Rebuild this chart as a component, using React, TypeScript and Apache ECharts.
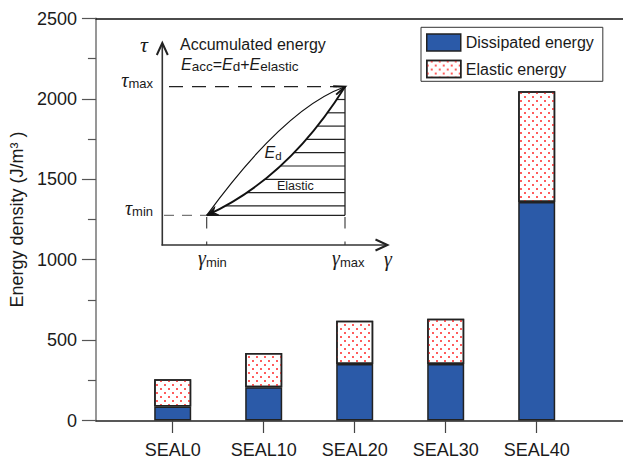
import React, { useEffect, useRef } from 'react';
import * as echarts from 'echarts';

const categories = ['SEAL0', 'SEAL10', 'SEAL20', 'SEAL30', 'SEAL40'];
const dissipated = [87, 207, 352, 352, 1359];
const elastic = [170, 212, 269, 280, 689];
const yTicks = [0, 500, 1000, 1500, 2000, 2500];
const legendNames = ['Dissipated energy', 'Elastic energy'];

const SANS = 'Liberation Sans, Arial, sans-serif';
const SERIF = 'Liberation Serif, Times New Roman, serif';
const INK = '#1a1a1a';

type P = [number, number];
function qb(p0: P, c: P, p2: P, t: number): P {
  const u = 1 - t;
  return [u * u * p0[0] + 2 * u * t * c[0] + t * t * p2[0], u * u * p0[1] + 2 * u * t * c[1] + t * t * p2[1]];
}
function xAtY(p0: P, c: P, p2: P, y: number): number {
  let lo = 0, hi = 1;
  for (let i = 0; i < 50; i++) {
    const m = (lo + hi) / 2;
    if (qb(p0, c, p2, m)[1] > y) lo = m; else hi = m;
  }
  return qb(p0, c, p2, (lo + hi) / 2)[0];
}

function buildInset(): any[] {
  const pMin: P = [206.7, 215.3];
  const pMax: P = [345, 86.7];
  const cLow: P = [287.6, 178.6];
  const cUp: P = [285, 108];
  const els: any[] = [];
  const line = (x1: number, y1: number, x2: number, y2: number, stroke: string, lw: number, dash?: number[]) => ({
    type: 'line', z: 20, silent: true,
    shape: { x1, y1, x2, y2 },
    style: { stroke, lineWidth: lw, lineDash: dash },
  });
  // axes
  els.push(line(162.3, 245.5, 162.3, 44, '#333', 1.6));
  els.push({ type: 'polyline', z: 20, shape: { points: [[156.8, 55], [162.3, 43], [167.8, 55]] }, style: { stroke: '#222', lineWidth: 2, fill: null } });
  els.push(line(161.5, 245, 386, 245, '#333', 1.6));
  els.push({ type: 'polyline', z: 20, shape: { points: [[375.5, 239.5], [387.5, 245], [375.5, 250.5]] }, style: { stroke: '#222', lineWidth: 2, fill: null } });
  // dashed reference lines
  els.push(line(169, 86.7, 337, 86.7, '#222', 1.2, [14, 9]));
  els.push(line(164, 215.3, 206, 215.3, '#777', 1.2, [10, 8]));
  els.push(line(206.7, 217, 206.7, 245, '#333', 1.1, [11.5, 13]));
  els.push(line(345, 217, 345, 245, '#333', 1.1, [11.5, 13]));
  // hatch
  els.push(line(345, 86.7, 345, 215.3, '#222', 1.3));
  const hatchY = [99.5, 112.8, 126.1, 139.4, 152.7, 166, 179.3, 192.6, 205.9];
  hatchY.forEach((y) => {
    els.push(line(xAtY(pMin, cLow, pMax, y), y, 345, y, '#222', 1.2));
  });
  els.push(line(pMin[0], pMin[1], 345, pMin[1], '#222', 1.3));
  // curves
  els.push({ type: 'bezierCurve', z: 21, shape: { x1: pMin[0], y1: pMin[1], cpx1: cLow[0], cpy1: cLow[1], x2: pMax[0], y2: pMax[1] }, style: { stroke: '#111', lineWidth: 1.9, fill: null } });
  els.push({ type: 'bezierCurve', z: 21, shape: { x1: pMin[0], y1: pMin[1], cpx1: cUp[0], cpy1: cUp[1], x2: pMax[0], y2: pMax[1] }, style: { stroke: '#111', lineWidth: 1.2, fill: null } });
  // arrowheads
  const head = (tip: P, c: P, filled: boolean) => {
    const dx = tip[0] - c[0], dy = tip[1] - c[1];
    const len = Math.hypot(dx, dy);
    const ux = dx / len, uy = dy / len;
    const bx = tip[0] - 11 * ux, by = tip[1] - 11 * uy;
    const px = -uy * 4.5, py = ux * 4.5;
    const pts = [[bx + px, by + py], [tip[0], tip[1]], [bx - px, by - py]];
    return filled
      ? { type: 'polygon', z: 22, shape: { points: [...pts, [tip[0] - 7 * ux, tip[1] - 7 * uy]] }, style: { fill: '#111', stroke: '#111', lineWidth: 1 } }
      : { type: 'polyline', z: 22, shape: { points: pts }, style: { stroke: '#111', lineWidth: 2, fill: null } };
  };
  els.push(head(pMax, cUp, false));
  els.push(head(pMin, cLow, true));
  // texts
  const txt = (x: number, y: number, text: string, font: string, align = 'left', rich?: any) => ({
    type: 'text', z: 23, silent: true,
    style: { x, y, text, font, fill: INK, align, verticalAlign: 'middle', textAlign: align, textVerticalAlign: 'middle', rich },
  });
  els.push(txt(144, 44, 'τ', `italic 22px ${SERIF}`, 'center'));
  els.push(txt(180, 44.3, 'Accumulated energy', `16px ${SANS}`));
  const eqRich = {
    E: { fontStyle: 'italic', fontSize: 16, fontFamily: SANS, lineHeight: 18, fill: INK },
    o: { fontSize: 16, fontFamily: SANS, lineHeight: 18, fill: INK },
    s: { fontSize: 13.5, fontFamily: SANS, lineHeight: 9.4, verticalAlign: 'bottom', fill: INK },
  };
  els.push(txt(181, 64.8, '{E|E}{s|acc}{o|=}{E|E}{s|d}{o|+}{E|E}{s|elastic}', `16px ${SANS}`, 'left', eqRich));
  const tauRich = {
    t: { fontStyle: 'italic', fontSize: 20, fontFamily: SERIF, lineHeight: 20, fill: INK },
    s: { fontSize: 13, fontFamily: SANS, lineHeight: 10, verticalAlign: 'bottom', fill: INK },
  };
  els.push(txt(153, 79.8, '{t|τ}{s|max}', `13px ${SANS}`, 'right', tauRich));
  els.push(txt(153, 208.4, '{t|τ}{s|min}', `13px ${SANS}`, 'right', tauRich));
  const gamRich = {
    g: { fontStyle: 'italic', fontSize: 20, fontFamily: SERIF, lineHeight: 22, fill: INK },
    s: { fontSize: 13, fontFamily: SANS, lineHeight: 6, verticalAlign: 'bottom', fill: INK },
  };
  els.push(txt(198, 258.3, '{g|γ}{s|min}', `13px ${SANS}`, 'left', gamRich));
  els.push(txt(332, 258.3, '{g|γ}{s|max}', `13px ${SANS}`, 'left', gamRich));
  els.push(txt(384, 259, 'γ', `italic 20px ${SERIF}`));
  const edRich = {
    E: { fontStyle: 'italic', fontSize: 16, fontFamily: SANS, lineHeight: 18, fill: INK },
    s: { fontSize: 11.5, fontFamily: SANS, lineHeight: 5, verticalAlign: 'bottom', fill: INK },
  };
  els.push(txt(264.5, 152.8, '{E|E}{s|d}', `16px ${SANS}`, 'left', edRich));
  els.push(txt(277, 186.3, 'Elastic', `12.5px ${SANS}`));
  return els;
}

export default function App() {
  const ref = useRef<HTMLDivElement>(null);
  useEffect(() => {
    if (!ref.current) return;
    const chart = echarts.init(ref.current, undefined, { renderer: 'svg' });
    const yMin = yTicks[0], yMax = yTicks[yTicks.length - 1];
    const option: any = {
      animation: false,
      textStyle: { fontFamily: SANS },
      grid: [
        { left: 91.5, right: 0, top: 18.5, bottom: 42.5 },
        { left: 127.2, right: 40.8, top: 18.5, bottom: 42.5 },
      ],
      legend: {
        orient: 'vertical', left: 421, top: 27.3,
        itemWidth: 34, itemHeight: 17, itemGap: 8,
        padding: [6, 9, 3, 5],
        borderColor: '#333', borderWidth: 1,
        icon: 'rect',
        textStyle: { fontSize: 16, color: INK, fontFamily: SANS },
        itemStyle: { borderColor: '#222', borderWidth: 1.5 },
        data: legendNames,
      },
      xAxis: [
        {
          gridIndex: 0, type: 'value', min: 0, max: 1,
          axisLine: { show: true, onZero: false, lineStyle: { color: '#222', width: 1.5 } },
          axisTick: { show: false }, axisLabel: { show: false }, splitLine: { show: false },
        },
        {
          gridIndex: 0, type: 'value', position: 'top', min: 0, max: 1,
          axisLine: { show: true, onZero: false, lineStyle: { color: '#111', width: 1.5 } },
          axisTick: { show: false }, axisLabel: { show: false }, splitLine: { show: false },
        },
        {
          gridIndex: 1, type: 'category', data: categories, boundaryGap: true,
          axisLine: { show: false },
          axisTick: { show: true, alignWithLabel: true, length: 12.5, lineStyle: { color: '#444', width: 1.2 } },
          axisLabel: { margin: 20, fontSize: 18, color: INK, fontFamily: SANS },
          splitLine: { show: false },
        },
      ],
      yAxis: [
        {
          gridIndex: 0, type: 'value', min: yMin, max: yMax, interval: yTicks[1] - yTicks[0],
          axisLine: { show: true, lineStyle: { color: '#8c8c8c', width: 1.8 } },
          axisTick: { show: true, length: 14, lineStyle: { color: '#555', width: 1.2 } },
          minorTick: { show: true, splitNumber: 2, length: 8, lineStyle: { color: '#555', width: 1.2 } },
          axisLabel: { fontSize: 18, margin: 19, color: INK, fontFamily: SANS, formatter: (v: number) => String(v) },
          splitLine: { show: false },
          name: 'Energy density (J/m³ )', nameLocation: 'middle', nameGap: 62,
          nameTextStyle: { fontSize: 18, color: INK, fontFamily: SANS },
        },
        {
          gridIndex: 1, type: 'value', min: yMin, max: yMax, show: false,
          splitLine: { show: false },
        },
      ],
      series: [
        {
          type: 'bar', name: legendNames[0], stack: 'energy', barWidth: 37,
          xAxisIndex: 2, yAxisIndex: 1,
          data: dissipated,
          itemStyle: { color: '#2b5aa8', borderColor: '#222', borderWidth: 1.5 },
        },
        {
          type: 'bar', name: legendNames[1], stack: 'energy', barWidth: 37,
          xAxisIndex: 2, yAxisIndex: 1,
          data: elastic,
          itemStyle: {
            color: '#ffffff', borderColor: '#222', borderWidth: 1.5,
            decal: {
              symbol: 'rect', symbolSize: 0.9, color: '#ff4a4a', backgroundColor: '#ffffff',
              dashArrayX: [[2, 6], [0, 4, 2, 2]], dashArrayY: [2, 2], rotation: 0,
            },
          },
        },
      ],
      graphic: { elements: buildInset() },
    };
    chart.setOption(option);
    return () => chart.dispose();
  }, []);
  return <div ref={ref} style={{ position: 'absolute', left: 0, top: 0, width: 623, height: 463, background: '#fff' }} />;
}
